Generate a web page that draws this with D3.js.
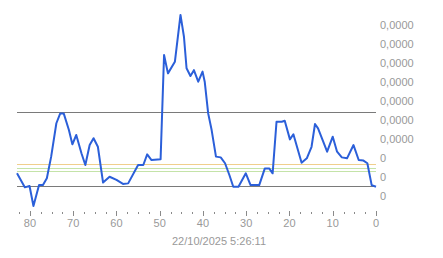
<!DOCTYPE html>
<html>
<head>
<meta charset="utf-8">
<script src="https://cdn.jsdelivr.net/npm/d3@7"></script>
<style>
  body { margin: 0; background: #fff; }
  text { font-family: "Liberation Sans", Arial, sans-serif; }
</style>
</head>
<body>
<svg id="chart" width="443" height="258"></svg>
<script>
// series (x = age units, y = value units)
const xValues = [83.0, 81.2, 80.1, 79.2, 77.9, 77.0, 76.1, 75.1, 73.9, 73.0, 72.2, 71.0, 70.2, 69.3,
  68.1, 67.2, 66.2, 65.3, 64.3, 63.1, 61.6, 60.0, 58.5, 57.3, 55.0, 53.8, 52.9, 51.9, 49.8, 49.0,
  48.1, 46.5, 45.2, 44.4, 43.8, 42.9, 42.1, 41.1, 40.1, 39.6, 38.8, 38.0, 37.0, 35.9, 34.9, 33.9,
  33.0, 31.8, 30.1, 29.0, 27.0, 25.7, 24.7, 23.9, 23.0, 21.8, 21.1, 19.9, 19.1, 17.2, 16.0, 14.9,
  14.1, 13.4, 12.2, 11.3, 10.0, 9.0, 7.9, 6.7, 5.2, 4.0, 2.9, 2.0, 1.0, 0.0];
const yValues = [1.18, 0.44, 0.51, -0.54, 0.56, 0.56, 0.92, 2.06, 3.82, 4.34, 4.34, 3.46, 2.71, 3.20,
  2.24, 1.62, 2.67, 3.03, 2.58, 0.69, 1.00, 0.83, 0.62, 0.65, 1.62, 1.62, 2.18, 1.88, 1.92, 7.42,
  6.45, 7.06, 9.53, 8.38, 6.72, 6.31, 6.62, 6.01, 6.54, 6.01, 4.34, 3.46, 2.06, 2.02, 1.71, 1.09,
  0.47, 0.47, 1.18, 0.56, 0.56, 1.44, 1.44, 1.18, 3.90, 3.90, 3.95, 2.97, 3.24, 1.74, 1.97, 2.58,
  3.78, 3.55, 2.85, 2.32, 3.11, 2.32, 2.02, 1.97, 2.67, 1.88, 1.85, 1.71, 0.56, 0.47];

// horizontal reference levels
const refLevels = [4.41, 0.51, 1.66, 1.44, 1.32];
const refColors = ["#7a7a7a", "#7a7a7a", "#f0cf8c", "#c4e3a8", "#c4e3a8"];

// axis ticks
const xMajorTicks = [80, 70, 60, 50, 40, 30, 20, 10, 0];
const xMinorTicks = d3.range(0, 83, 2.5);
const yTicks = [0, 1, 2, 3, 4, 5, 6, 7, 8, 9];
const yTickLabels = ["0", "0", "0", "0,0000", "0,0000", "0,0000", "0,0000", "0,0000", "0,0000", "0,0000"];
const xTitle = "22/10/2025 5:26:11";

const svg = d3.select("#chart");

const x = d3.scaleLinear().domain([83, 0]).range([17, 376]);
const y = d3.scaleLinear().domain([0, 9]).range([195.7, 25]);

// reference lines
svg.append("g")
  .selectAll("line")
  .data(refLevels)
  .join("line")
  .attr("x1", x(83)).attr("x2", x(0))
  .attr("y1", d => Math.round(y(d)) + 0.5)
  .attr("y2", d => Math.round(y(d)) + 0.5)
  .attr("stroke", (d, i) => refColors[i])
  .attr("stroke-width", 1);

// data line
svg.append("path")
  .datum(d3.zip(xValues, yValues))
  .attr("fill", "none")
  .attr("stroke", "#2b5fd9")
  .attr("stroke-width", 2)
  .attr("stroke-linejoin", "round")
  .attr("d", d3.line().x(d => x(d[0])).y(d => y(d[1])));

// x axis: minor + major ticks, labels
const xAxis = svg.append("g").attr("transform", "translate(0,211)");
xAxis.selectAll(".minor")
  .data(xMinorTicks.filter(d => d % 10 !== 0))
  .join("line")
  .attr("x1", d => Math.round(x(d)) + 0.5).attr("x2", d => Math.round(x(d)) + 0.5)
  .attr("y1", 1).attr("y2", 3)
  .attr("stroke", "#8a8a8a");
xAxis.selectAll(".major")
  .data(xMajorTicks)
  .join("line")
  .attr("x1", d => Math.round(x(d)) + 0.5).attr("x2", d => Math.round(x(d)) + 0.5)
  .attr("y1", 0).attr("y2", 5)
  .attr("stroke", "#8a8a8a");
xAxis.selectAll("text")
  .data(xMajorTicks)
  .join("text")
  .attr("x", d => x(d))
  .attr("y", 16)
  .attr("text-anchor", "middle")
  .attr("font-size", 11)
  .attr("fill", "#999")
  .text(d => d);

svg.append("text")
  .attr("x", 219)
  .attr("y", 245)
  .attr("text-anchor", "middle")
  .attr("font-size", 11)
  .attr("fill", "#999")
  .text(xTitle);

// y axis labels on the right
svg.append("g")
  .selectAll("text")
  .data(yTicks)
  .join("text")
  .attr("x", 380)
  .attr("y", d => y(d) + 4)
  .attr("font-size", 11)
  .attr("fill", "#999")
  .text((d, i) => yTickLabels[i]);
</script>
</body>
</html>
